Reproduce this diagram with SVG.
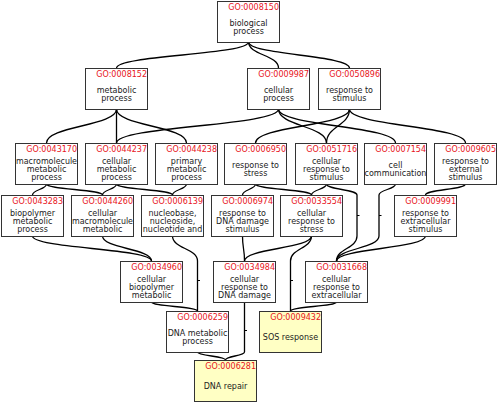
<svg xmlns="http://www.w3.org/2000/svg" width="498" height="402" viewBox="0 0 498 402">
<style>
.box{fill:#fff;stroke:#333;stroke-width:1}
.hl{fill:#ffffc4}
.id{font-family:"DejaVu Sans",sans-serif;font-size:8px;fill:#e8141b;text-anchor:end}
.lb{font-family:"DejaVu Sans",sans-serif;font-size:8px;fill:#222;text-anchor:middle}
.e{fill:none;stroke:#000;stroke-width:1.3}
.t{fill:none;stroke:#000;stroke-width:1}
</style>
<rect width="498" height="402" fill="#fff"/>
<g id="connectors">
<path class="e" d="M248.5 42C248.5 55 116.5 55 116.5 68"/>
<path class="e" d="M248.5 42C248.5 55 278.5 55 278.5 68"/>
<path class="e" d="M248.5 42C248.5 55 349.5 55 349.5 68"/>
<path class="e" d="M116.5 109C116.5 126 46.5 126 46.5 143"/>
<path class="e" d="M116.5 109L116.5 143"/>
<path class="e" d="M116.5 109C116.5 126 186.5 126 186.5 143"/>
<path class="e" d="M278.5 109C278.5 126 116.5 126 116.5 143"/>
<path class="e" d="M278.5 109C278.5 126 326.5 126 326.5 143"/>
<path class="e" d="M278.5 109C278.5 126 395.5 126 395.5 143"/>
<path class="e" d="M349.5 109C349.5 126 255.5 126 255.5 143"/>
<path class="e" d="M349.5 109C349.5 126 326.5 126 326.5 143"/>
<path class="e" d="M349.5 109C349.5 126 465.5 126 465.5 143"/>
<path class="e" d="M46.5 184C46.5 189.5 32.5 189.5 32.5 195"/>
<path class="e" d="M46.5 184C46.5 189.5 102.5 189.5 102.5 195"/>
<path class="e" d="M116.5 184C116.5 189.5 102.5 189.5 102.5 195"/>
<path class="e" d="M116.5 184C116.5 189.5 172.5 189.5 172.5 195"/>
<path class="e" d="M186.5 184C186.5 189.5 172.5 189.5 172.5 195"/>
<path class="e" d="M255.5 184C255.5 189.5 242.5 189.5 242.5 195"/>
<path class="e" d="M255.5 184C255.5 189.5 311.5 189.5 311.5 195"/>
<path class="e" d="M326.5 184C326.5 189.5 311.5 189.5 311.5 195"/>
<path class="e" d="M326.5 184C326.5 189.5 357 189.5 357 195L357 236C357 248.5 336.5 248.5 336.5 261"/>
<path class="e" d="M395.5 184C395.5 189.5 379 189.5 379 195L379 236C379 248.5 336.5 248.5 336.5 261"/>
<path class="e" d="M465.5 184C465.5 189.5 425.5 189.5 425.5 195"/>
<path class="e" d="M32.5 236C32.5 248.5 151.5 248.5 151.5 261"/>
<path class="e" d="M102.5 236C102.5 248.5 151.5 248.5 151.5 261"/>
<path class="e" d="M172.5 236C172.5 248.5 197.5 248.5 197.5 261L197.5 311"/>
<path class="e" d="M242.5 236C242.5 248.5 244.5 248.5 244.5 261"/>
<path class="e" d="M311.5 236C311.5 248.5 244.5 248.5 244.5 261"/>
<path class="e" d="M311.5 236C311.5 248.5 290.5 248.5 290.5 261L290.5 311"/>
<path class="e" d="M425.5 236C425.5 248.5 336.5 248.5 336.5 261"/>
<path class="e" d="M151.5 302C151.5 306.5 197.5 306.5 197.5 311"/>
<path class="e" d="M336.5 302C336.5 306.5 290.5 306.5 290.5 311"/>
<path class="e" d="M244.5 302L244.5 352C244.5 356 225.5 356 225.5 360"/>
<path class="e" d="M197.5 352C197.5 356 225.5 356 225.5 360"/>
<path class="t" d="M197.5 280.5h2.5M290.5 280.5h2.5M357 215.5h2.5M379 215.5h2.5M244.5 330.5h2.5"/>
</g>
<g id="GO0008150"><rect class="box" x="217.5" y="1.5" width="62" height="41"/><text class="id" x="279" y="10">GO:0008150</text><text class="lb" x="248.5" y="26">biological</text><text class="lb" x="248.5" y="34">process</text></g>
<g id="GO0008152"><rect class="box" x="85.5" y="68.5" width="62" height="41"/><text class="id" x="147" y="77">GO:0008152</text><text class="lb" x="116.5" y="93">metabolic</text><text class="lb" x="116.5" y="101">process</text></g>
<g id="GO0009987"><rect class="box" x="247.5" y="68.5" width="62" height="41"/><text class="id" x="309" y="77">GO:0009987</text><text class="lb" x="278.5" y="93">cellular</text><text class="lb" x="278.5" y="101">process</text></g>
<g id="GO0050896"><rect class="box" x="318.5" y="68.5" width="62" height="41"/><text class="id" x="380" y="77">GO:0050896</text><text class="lb" x="349.5" y="93">response to</text><text class="lb" x="349.5" y="101">stimulus</text></g>
<g id="GO0043170"><rect class="box" x="15.5" y="143.5" width="62" height="41"/><text class="id" x="77" y="152">GO:0043170</text><text class="lb" x="46.5" y="164" textLength="61" lengthAdjust="spacingAndGlyphs">macromolecule</text><text class="lb" x="46.5" y="172">metabolic</text><text class="lb" x="46.5" y="180">process</text></g>
<g id="GO0044237"><rect class="box" x="85.5" y="143.5" width="62" height="41"/><text class="id" x="147" y="152">GO:0044237</text><text class="lb" x="116.5" y="164">cellular</text><text class="lb" x="116.5" y="172">metabolic</text><text class="lb" x="116.5" y="180">process</text></g>
<g id="GO0044238"><rect class="box" x="155.5" y="143.5" width="62" height="41"/><text class="id" x="217" y="152">GO:0044238</text><text class="lb" x="186.5" y="164">primary</text><text class="lb" x="186.5" y="172">metabolic</text><text class="lb" x="186.5" y="180">process</text></g>
<g id="GO0006950"><rect class="box" x="224.5" y="143.5" width="62" height="41"/><text class="id" x="286" y="152">GO:0006950</text><text class="lb" x="255.5" y="168">response to</text><text class="lb" x="255.5" y="176">stress</text></g>
<g id="GO0051716"><rect class="box" x="295.5" y="143.5" width="62" height="41"/><text class="id" x="357" y="152">GO:0051716</text><text class="lb" x="326.5" y="164">cellular</text><text class="lb" x="326.5" y="172">response to</text><text class="lb" x="326.5" y="180">stimulus</text></g>
<g id="GO0007154"><rect class="box" x="364.5" y="143.5" width="62" height="41"/><text class="id" x="426" y="152">GO:0007154</text><text class="lb" x="395.5" y="168">cell</text><text class="lb" x="395.5" y="176">communication</text></g>
<g id="GO0009605"><rect class="box" x="434.5" y="143.5" width="62" height="41"/><text class="id" x="496" y="152">GO:0009605</text><text class="lb" x="465.5" y="164">response to</text><text class="lb" x="465.5" y="172">external</text><text class="lb" x="465.5" y="180">stimulus</text></g>
<g id="GO0043283"><rect class="box" x="1.5" y="195.5" width="62" height="41"/><text class="id" x="63" y="204">GO:0043283</text><text class="lb" x="32.5" y="216">biopolymer</text><text class="lb" x="32.5" y="224">metabolic</text><text class="lb" x="32.5" y="232">process</text></g>
<g id="GO0044260"><rect class="box" x="71.5" y="195.5" width="62" height="41"/><text class="id" x="133" y="204">GO:0044260</text><text class="lb" x="102.5" y="216">cellular</text><text class="lb" x="102.5" y="224" textLength="61" lengthAdjust="spacingAndGlyphs">macromolecule</text><text class="lb" x="102.5" y="232">metabolic</text></g>
<g id="GO0006139"><rect class="box" x="141.5" y="195.5" width="62" height="41"/><text class="id" x="203" y="204">GO:0006139</text><text class="lb" x="172.5" y="216">nucleobase,</text><text class="lb" x="172.5" y="224">nucleoside,</text><text class="lb" x="172.5" y="232">nucleotide and</text></g>
<g id="GO0006974"><rect class="box" x="211.5" y="195.5" width="62" height="41"/><text class="id" x="273" y="204">GO:0006974</text><text class="lb" x="242.5" y="216">response to</text><text class="lb" x="242.5" y="224">DNA damage</text><text class="lb" x="242.5" y="232">stimulus</text></g>
<g id="GO0033554"><rect class="box" x="280.5" y="195.5" width="62" height="41"/><text class="id" x="342" y="204">GO:0033554</text><text class="lb" x="311.5" y="216">cellular</text><text class="lb" x="311.5" y="224">response to</text><text class="lb" x="311.5" y="232">stress</text></g>
<g id="GO0009991"><rect class="box" x="394.5" y="195.5" width="62" height="41"/><text class="id" x="456" y="204">GO:0009991</text><text class="lb" x="425.5" y="216">response to</text><text class="lb" x="425.5" y="224">extracellular</text><text class="lb" x="425.5" y="232">stimulus</text></g>
<g id="GO0034960"><rect class="box" x="120.5" y="261.5" width="62" height="41"/><text class="id" x="182" y="270">GO:0034960</text><text class="lb" x="151.5" y="282">cellular</text><text class="lb" x="151.5" y="290">biopolymer</text><text class="lb" x="151.5" y="298">metabolic</text></g>
<g id="GO0034984"><rect class="box" x="213.5" y="261.5" width="62" height="41"/><text class="id" x="275" y="270">GO:0034984</text><text class="lb" x="244.5" y="282">cellular</text><text class="lb" x="244.5" y="290">response to</text><text class="lb" x="244.5" y="298">DNA damage</text></g>
<g id="GO0031668"><rect class="box" x="305.5" y="261.5" width="62" height="41"/><text class="id" x="367" y="270">GO:0031668</text><text class="lb" x="336.5" y="282">cellular</text><text class="lb" x="336.5" y="290">response to</text><text class="lb" x="336.5" y="298">extracellular</text></g>
<g id="GO0006259"><rect class="box" x="166.5" y="311.5" width="62" height="41"/><text class="id" x="228" y="320">GO:0006259</text><text class="lb" x="197.5" y="336">DNA metabolic</text><text class="lb" x="197.5" y="344">process</text></g>
<g id="GO0009432"><rect class="box hl" x="259.5" y="311.5" width="62" height="41"/><text class="id" x="321" y="320">GO:0009432</text><text class="lb" x="290.5" y="340">SOS response</text></g>
<g id="GO0006281"><rect class="box hl" x="194.5" y="360.5" width="62" height="41"/><text class="id" x="256" y="369">GO:0006281</text><text class="lb" x="225.5" y="389">DNA repair</text></g>
</svg>
